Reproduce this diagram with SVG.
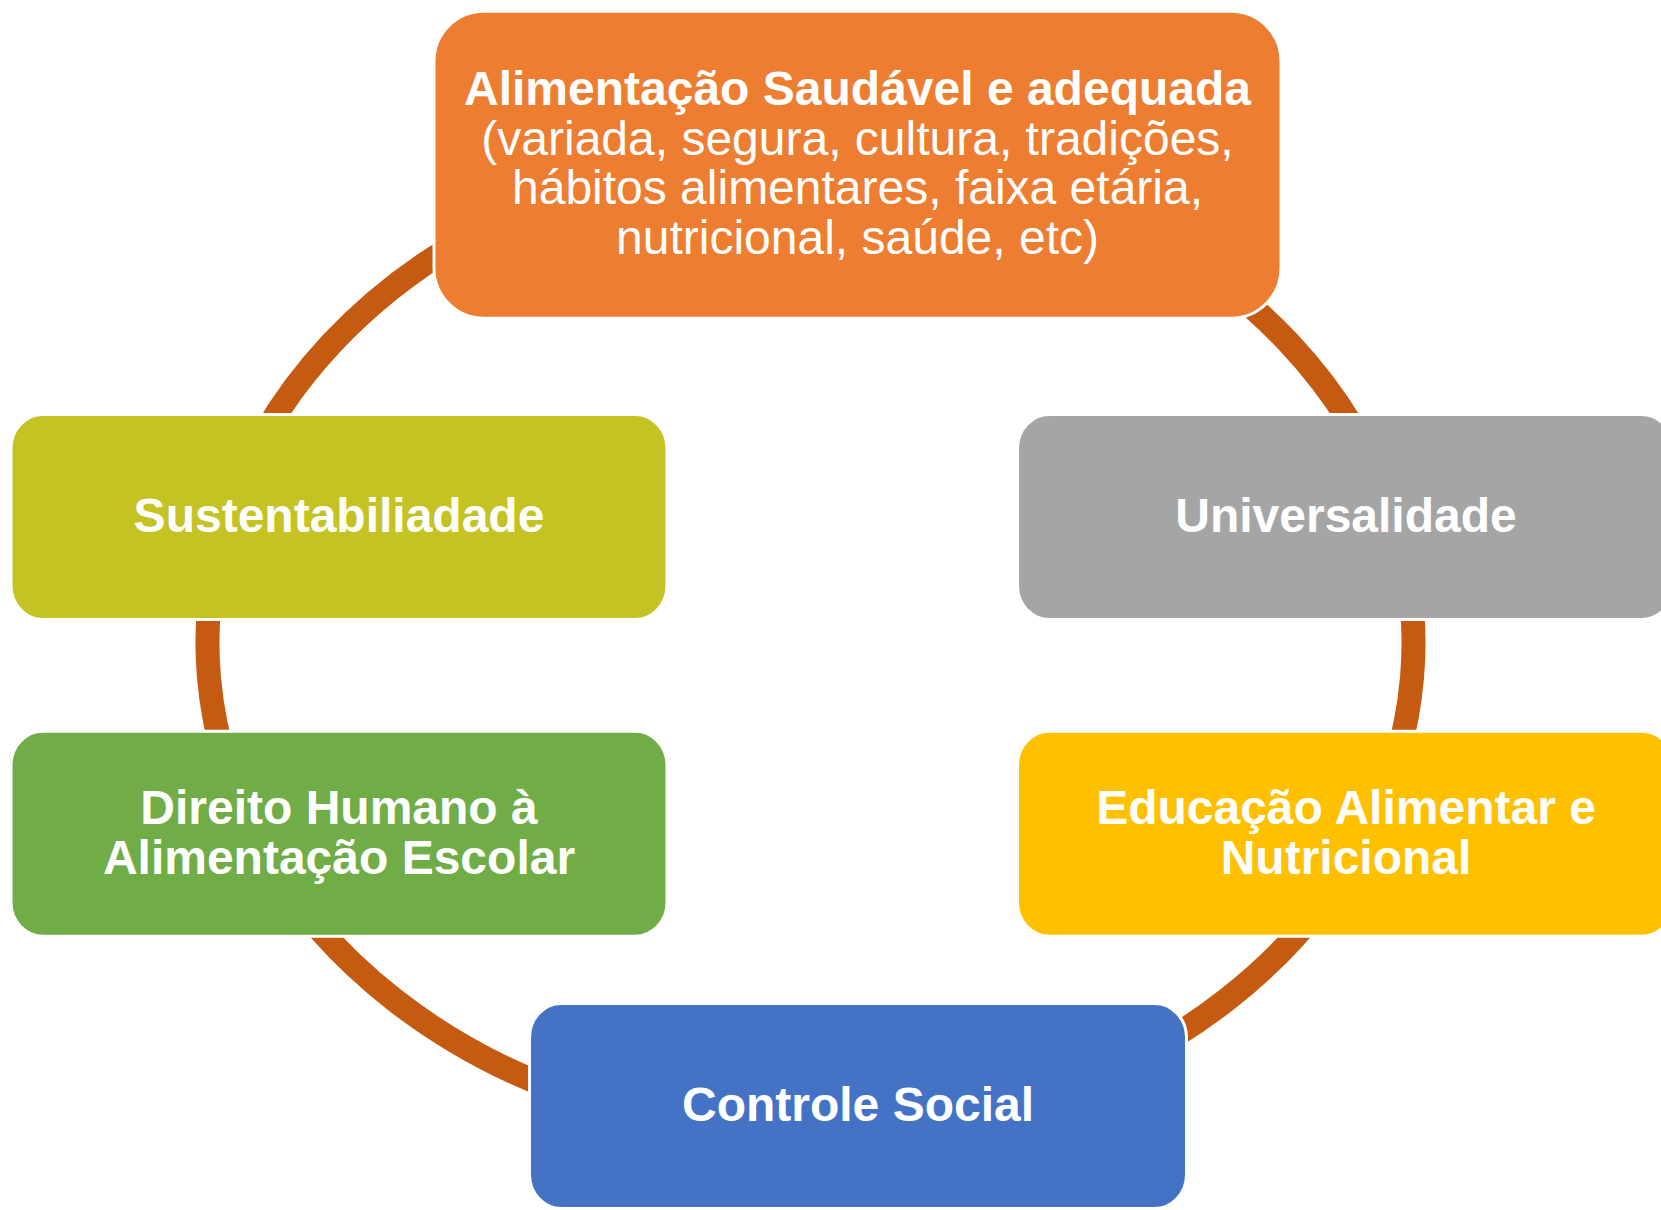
<svg xmlns="http://www.w3.org/2000/svg" width="1661" height="1210" viewBox="0 0 1661 1210">
  <style>
    .box { stroke: #FFFFFF; stroke-width: 3; }
    .conn { fill: none; stroke: #C55A11; stroke-width: 24; }
    .lbl { font-family: "Liberation Sans", Arial, sans-serif; font-size: 48px; fill: #FFFFFF; text-anchor: middle; }
    .b { font-weight: bold; }
  </style>
  <rect width="1661" height="1210" fill="#FFFFFF"/>
  <g id="connectors">
    <path class="conn" d="M 1112 216 A 603 493 0 0 1 1393.5 517"/>
    <path class="conn" d="M 1393.5 517 A 603 493 0 0 1 1366.4 834"/>
    <path class="conn" d="M 1366.4 834 A 603 493 0 0 1 1016.7 1106.3"/>
    <path class="conn" d="M 604.3 1106.3 A 603 493 0 0 1 254.6 834"/>
    <path class="conn" d="M 254.6 834 A 603 493 0 0 1 227.5 517"/>
    <path class="conn" d="M 227.5 517 A 603 493 0 0 1 509 216"/>
  </g>
  <g id="node-alimentacao">
    <rect class="box" x="434" y="11.2" width="847" height="307" rx="50" ry="50" fill="#ED7D31"/>
    <text class="lbl b" x="857.5" y="105">Alimentação Saudável e adequada</text>
    <text class="lbl" x="857.5" y="154.5">(variada, segura, cultura, tradições,</text>
    <text class="lbl" x="857.5" y="204">hábitos alimentares, faixa etária,</text>
    <text class="lbl" x="857.5" y="253.5">nutricional, saúde, etc)</text>
  </g>
  <g id="node-universalidade">
    <rect class="box" x="1017.5" y="414.5" width="656" height="205" rx="32" ry="34" fill="#A5A5A5"/>
    <text class="lbl b" x="1346" y="531.7">Universalidade</text>
  </g>
  <g id="node-educacao">
    <rect class="box" x="1017.5" y="731.3" width="656" height="205" rx="32" ry="34" fill="#FFC000"/>
    <text class="lbl b" x="1346" y="824">Educação Alimentar e</text>
    <text class="lbl b" x="1346" y="874">Nutricional</text>
  </g>
  <g id="node-controle">
    <rect class="box" x="529.5" y="1003.5" width="657" height="205" rx="32" ry="34" fill="#4472C4"/>
    <text class="lbl b" x="858" y="1120.7">Controle Social</text>
  </g>
  <g id="node-direito">
    <rect class="box" x="11" y="731.3" width="656" height="205" rx="32" ry="34" fill="#70AD47"/>
    <text class="lbl b" x="339" y="824">Direito Humano à</text>
    <text class="lbl b" x="339" y="874">Alimentação Escolar</text>
  </g>
  <g id="node-sustentabilidade">
    <rect class="box" x="11" y="414.5" width="656" height="205" rx="32" ry="34" fill="#C5C223"/>
    <text class="lbl b" x="339" y="531.7">Sustentabiliadade</text>
  </g>
</svg>
